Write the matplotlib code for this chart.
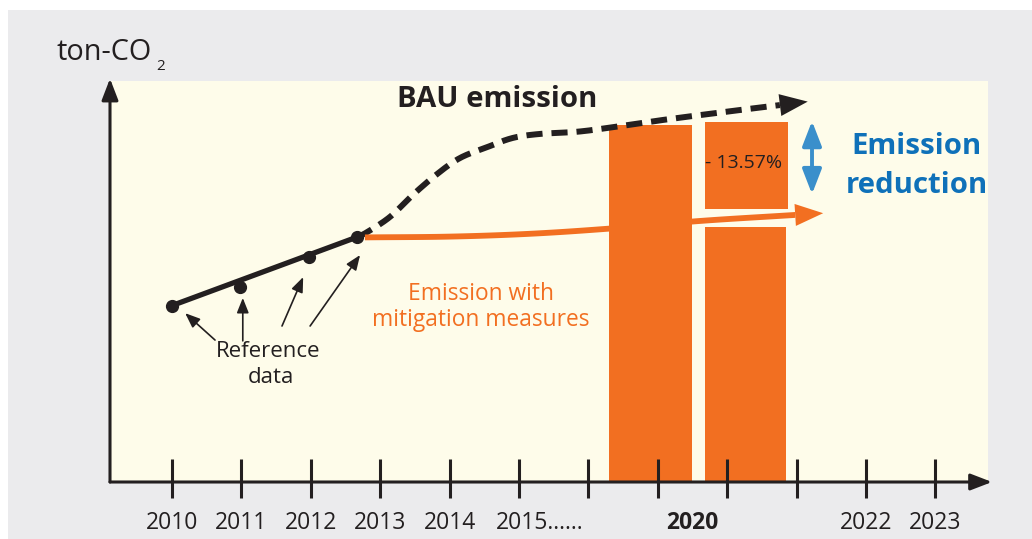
import matplotlib
matplotlib.use("Agg")
import matplotlib.pyplot as plt
from matplotlib.patches import Rectangle, FancyArrowPatch, Polygon
from matplotlib.transforms import IdentityTransform
import numpy as np

# ---------------- data ----------------
tick_pos = list(range(12))
tick_labels = ["2010", "2011", "2012", "2013", "2014", "2015......",
               "", "", "", "", "2022", "2023"]
highlight_label = "2020"
highlight_pos = 7.5

# reference (historical) data points
ref_x = [0.0, 0.98, 1.98, 2.67]
ref_y = [44.0, 48.6, 56.0, 61.1]

# business-as-usual projection (dashed)
bau_x = [2.67, 2.81, 3.14, 3.47, 3.82, 4.15, 4.54, 4.91, 5.30, 5.81, 6.28, 7.08, 7.97, 8.76]
bau_y = [61.1, 62.3, 66.1, 71.6, 76.8, 80.8, 83.5, 85.8, 86.8, 87.3, 88.3, 90.3, 92.3, 94.0]

# emission with mitigation measures
mit_x = [2.78, 4.01, 5.16, 6.31, 7.61, 8.98]
mit_y = [61.0, 61.2, 61.9, 63.2, 65.1, 66.6]

# 2020 bars
bar_bau_x, bar_bau_w, bar_bau_h = 6.895, 1.196, 89.0
bar_mit_x, bar_mit_w, bar_mit_h = 8.264, 1.167, 63.6
red_x, red_w, red_bottom, red_top = 8.278, 1.196, 68.1, 89.8
reduction_label = "- 13.57%"

# ---------------- style ----------------
BLACK = "#231F20"
ORANGE = "#F26F21"
BLUE_T = "#0F71B9"
BLUE_A = "#3A8FCB"
CREAM = "#FEFCEA"
GRAY = "#EBEBED"
FONT = "Open Sans"
plt.rcParams["font.family"] = [FONT, "DejaVu Sans"]

W, H = 1032, 539
fig = plt.figure(figsize=(W / 100, H / 100), dpi=100, facecolor="white")
fig.patches.append(Rectangle((8 / W, 0), 1, (H - 10) / H, transform=fig.transFigure,
                             facecolor=GRAY, edgecolor="none", zorder=-10))

ax = fig.add_axes([110 / W, 57 / H, 878 / W, 401 / H])
ax.set_zorder(1)
ax.set_facecolor(CREAM)
for s in ax.spines.values():
    s.set_visible(False)
ax.set_xticks([])
ax.set_yticks([])
XL = (110 - 172) / 69.4
XR = (988 - 172) / 69.4
ax.set_xlim(XL, XR)
ax.set_ylim(0, 100)


def smooth(xs, ys, n=24):
    """Catmull-Rom curve through the given points (for drawing only)."""
    P = np.column_stack([xs, ys]).astype(float)
    P = np.vstack([2 * P[0] - P[1], P, 2 * P[-1] - P[-2]])
    out = []
    t = np.linspace(0, 1, n, endpoint=False)[:, None]
    for i in range(1, len(P) - 2):
        p0, p1, p2, p3 = P[i - 1], P[i], P[i + 1], P[i + 2]
        seg = 0.5 * ((2 * p1) + (-p0 + p2) * t + (2 * p0 - 5 * p1 + 4 * p2 - p3) * t ** 2
                     + (-p0 + 3 * p1 - 3 * p2 + p3) * t ** 3)
        out.append(seg)
    out.append(P[-2][None, :])
    S = np.vstack(out)
    return S[:, 0], S[:, 1]


def head(p_prev, p_end, length_px, half_px, color, z=6):
    a = ax.transData.transform(p_prev)
    b = ax.transData.transform(p_end)
    d = (b - a) / np.hypot(*(b - a))
    n = np.array([-d[1], d[0]])
    tip = b + d * length_px
    poly = Polygon([b + n * half_px, tip, b - n * half_px], closed=True,
                   transform=IdentityTransform(), facecolor=color, edgecolor="none", zorder=z)
    fig.add_artist(poly)


def arrow(p0, p1, style, lw, color, z=5):
    ar = FancyArrowPatch(p0, p1, arrowstyle=style, mutation_scale=1, lw=lw,
                         color=color, shrinkA=0, shrinkB=0, clip_on=False, zorder=z)
    ax.add_patch(ar)


# axes arrows
arrow((XL, 0), (XL, 100.6), "-|>,head_length=13,head_width=5", 2.2, BLACK)
arrow((XL, 0), ((992 - 172) / 69.4, 0), "-|>,head_length=13,head_width=5", 2.2, BLACK)

# ticks
TICK_FS = 16.5
ax.vlines(tick_pos, -4.0, 5.7, color=BLACK, lw=2.2, clip_on=False, zorder=5)
for p, lab in zip(tick_pos, tick_labels):
    if not lab:
        continue
    if lab.startswith("2015"):
        ax.text(p - 0.33, -11.7, lab, ha="left", va="baseline", fontsize=TICK_FS,
                color=BLACK, clip_on=False)
    else:
        ax.text(p, -11.7, lab, ha="center", va="baseline", fontsize=TICK_FS,
                color=BLACK, clip_on=False)
ax.text(highlight_pos, -11.7, highlight_label, ha="center", va="baseline",
        fontsize=TICK_FS, fontweight="bold", color=BLACK, clip_on=False)

# y label
ax.text(-1.66, 105.2, "ton-CO", ha="left", va="baseline", fontsize=20.8,
        color=BLACK, clip_on=False)
ax.text(-0.23, 102.7, "2", ha="left", va="baseline", fontsize=11,
        color=BLACK, clip_on=False)

# bars
ax.bar([bar_bau_x], [bar_bau_h], width=bar_bau_w, color=ORANGE, zorder=2)
ax.bar([bar_mit_x], [bar_mit_h], width=bar_mit_w, color=ORANGE, zorder=2)
ax.bar([red_x], [red_top - red_bottom], bottom=[red_bottom], width=red_w,
       color=ORANGE, zorder=2)
ax.text(8.24, 78.3, reduction_label, ha="center", va="baseline", fontsize=14,
        color=BLACK, zorder=3)

# reference data: straight trend line + points
ax.plot([ref_x[0], ref_x[-1]], [ref_y[0], ref_y[-1]], color=BLACK, lw=3.8,
        solid_capstyle="round", zorder=4)
ax.plot(ref_x, ref_y, ls="none", marker="o", markersize=8.5, color=BLACK, zorder=4)

# BAU dashed
bx, by = smooth(bau_x, bau_y)
ax.plot(bx, by, color=BLACK, lw=4.3, dashes=(2.7, 1.5), zorder=4)
head((bx[-4], by[-4]), (bx[-1], by[-1]), 28, 11, BLACK)

# mitigation line
mx, my = smooth(mit_x, mit_y)
ax.plot(mx, my, color=ORANGE, lw=4.2, zorder=4, solid_capstyle="butt")
head((mx[-4], my[-4]), (mx[-1], my[-1]), 28, 11, ORANGE)

# emission reduction double arrow
arrow((9.222, 71.8), (9.222, 90.0), "<|-|>,head_length=15,head_width=5.8", 2.8, BLUE_A)

# texts
ax.text(4.68, 93.5, "BAU emission", ha="center", va="baseline", fontsize=21.2,
        fontweight="bold", color=BLACK)
ax.text(10.73, 81.8, "Emission", ha="center", va="baseline", fontsize=21.2,
        fontweight="bold", color=BLUE_T, clip_on=False)
ax.text(10.73, 72.1, "reduction", ha="center", va="baseline", fontsize=21.2,
        fontweight="bold", color=BLUE_T, clip_on=False)
ax.text(4.45, 45.4, "Emission with", ha="center", va="baseline", fontsize=16.4,
        color=ORANGE)
ax.text(4.45, 38.9, "mitigation measures", ha="center", va="baseline", fontsize=16.4,
        color=ORANGE)
ax.text(1.38, 31.2, "Reference", ha="center", va="baseline", fontsize=16, color=BLACK)
ax.text(1.43, 24.7, "data", ha="center", va="baseline", fontsize=16, color=BLACK)

# annotation arrows from "Reference data" to the points
ref_arrows = [((0.62, 35.4), (0.19, 42.1)),
              ((1.02, 35.2), (1.02, 45.9)),
              ((1.585, 38.9), (1.89, 51.1)),
              ((1.99, 38.9), (2.71, 56.6))]
for t, h in ref_arrows:
    arrow(t, h, "-|>,head_length=9,head_width=3.6", 1.2, BLACK)

fig.savefig("out.png", dpi=100, facecolor="white")
